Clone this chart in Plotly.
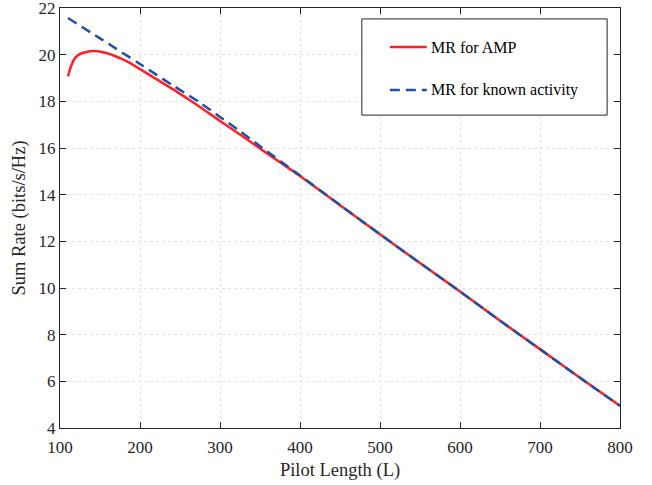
import plotly.graph_objects as go

# pilot length L and sum rate (bits/s/Hz)
L_amp = [110, 113, 117, 122, 129, 142, 158, 183, 200, 220, 242, 260, 275, 300, 325, 350, 375,
         400, 450, 500, 550, 600, 650, 700, 750, 800]
rate_amp = [19.07, 19.42, 19.76, 19.96, 20.08, 20.16, 20.07, 19.72, 19.38, 18.96, 18.5, 18.1,
            17.76, 17.16, 16.58, 15.98, 15.39, 14.8, 13.55, 12.3, 11.07, 9.85, 8.6, 7.38,
            6.15, 4.95]

L_known = [110, 150, 200, 242, 275, 300, 325, 350, 400, 450, 500, 550, 600, 650, 700, 750, 800]
rate_known = [21.57, 20.7, 19.6, 18.66, 17.94, 17.33, 16.72, 16.08, 14.82, 13.56, 12.3,
              11.07, 9.85, 8.6, 7.38, 6.15, 4.95]

x_ticks = [100, 200, 300, 400, 500, 600, 700, 800]
y_ticks = [4, 6, 8, 10, 12, 14, 16, 18, 20, 22]

font = "Liberation Serif"
axcol = "#262626"

fig = go.Figure()
fig.add_trace(go.Scatter(x=L_amp, y=rate_amp, mode="lines", line_shape="spline",
                         line=dict(color="#ff1f26", width=2.5, smoothing=0.8), name="MR for AMP"))
fig.add_trace(go.Scatter(x=L_known, y=rate_known, mode="lines", line_shape="spline",
                         line=dict(color="#1f4fa8", width=2.5, dash="10px,6px", smoothing=0.8),
                         name="MR for known activity"))

axis = dict(showline=True, linecolor=axcol, linewidth=1, mirror="ticks",
            ticks="inside", ticklen=6, tickcolor=axcol, automargin=False,
            ticklabeloverflow="allow",
            showgrid=True, gridcolor="#e2e2e2", griddash="dot", gridwidth=1,
            zeroline=False, tickfont=dict(size=17, color=axcol, family=font),
            title_font=dict(size=18.5, color=axcol, family=font))

fig.update_xaxes(axis, range=[100, 800], tickvals=x_ticks, title_text="Pilot Length (L)",
                 title_standoff=6, ticklabelstandoff=4)
fig.update_yaxes(axis, range=[4, 22], tickvals=y_ticks, title_text="Sum Rate (bits/s/Hz)",
                 title_standoff=8)

# legend box drawn by hand to get the MATLAB spacing
fig.add_shape(type="rect", xref="paper", yref="paper", x0=0.539, x1=0.977, y0=0.745, y1=0.974,
              line=dict(color=axcol, width=1), fillcolor="white")
fig.add_shape(type="line", xref="paper", yref="paper", x0=0.589, x1=0.655, y0=0.907, y1=0.907,
              line=dict(color="#ff1f26", width=2.5))
fig.add_shape(type="line", xref="paper", yref="paper", x0=0.589, x1=0.655, y0=0.805, y1=0.805,
              line=dict(color="#1f4fa8", width=2.5, dash="10px,6px"))
for yy, txt in [(0.907, "MR for AMP"), (0.805, "MR for known activity")]:
    fig.add_annotation(xref="paper", yref="paper", x=0.659, y=yy, text=txt, showarrow=False,
                       xanchor="left", yanchor="middle",
                       font=dict(size=16, color="black", family=font))

fig.update_layout(width=652, height=485, margin=dict(l=60, r=32, t=8, b=57),
                  plot_bgcolor="white", paper_bgcolor="white", showlegend=False,
                  font=dict(family=font))

# drop the browser's default body margin so the figure sits at the page corner
fig.write_html("out.html", config={"displayModeBar": False},
               post_script="document.body.style.margin='0';")
